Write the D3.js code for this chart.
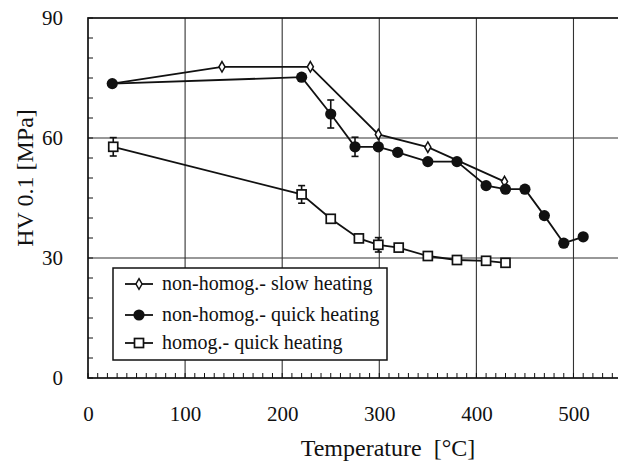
<!DOCTYPE html>
<html><head><meta charset="utf-8">
<script src="https://cdn.jsdelivr.net/npm/d3@7"></script>
<style>body{margin:0;background:#fff}svg{display:block}</style>
</head><body><svg id="c" width="618" height="464"></svg>
<script>
const xTicks=[0,100,200,300,400,500];
const yTicks=[0,30,60,90];
const seriesNames=["non-homog.- slow heating","non-homog.- quick heating","homog.- quick heating"];
const slowT=[25,138,229,299,350,429];
const slowHV=[73.6,77.8,77.8,60.9,57.7,49.1];
const quickT=[25,220,250,275,299,319,350,380,410,430,450,470,490,510];
const quickHV=[73.6,75.2,66,57.8,57.8,56.4,54.1,54.1,48.1,47.2,47.2,40.6,33.7,35.3];
const quickErr=[0,0.8,3.5,2.4,0,0,0,0,0,0,0,0,0,0];
const homT=[26,220,250,279,299,320,350,380,410,430];
const homHV=[57.8,45.9,39.8,34.9,33.3,32.6,30.5,29.5,29.3,28.8];
const homErr=[2.3,2.2,0,0,1.8,0,0,0,0,0];

const FONT="'Liberation Serif'";
const svg=d3.select("#c");
const L=88,T=18,R=623,B=378;
const x=d3.scaleLinear().domain([0,551]).range([L,R]);
const y=d3.scaleLinear().domain([0,90]).range([B,T]);
const ink="#111";
svg.append("g").selectAll("line").data([100,200,300,400,500]).join("line")
 .attr("x1",d=>x(d)).attr("x2",d=>x(d)).attr("y1",T).attr("y2",B).attr("stroke","#333").attr("stroke-width",1.1);
svg.append("g").selectAll("line").data([30,60]).join("line")
 .attr("x1",L).attr("x2",R).attr("y1",d=>y(d)).attr("y2",d=>y(d)).attr("stroke","#333").attr("stroke-width",1.1);
svg.append("g").selectAll("line").data(d3.range(0,91,5)).join("line")
 .attr("x1",L).attr("x2",L+5).attr("y1",d=>y(d)).attr("y2",d=>y(d)).attr("stroke",ink).attr("stroke-width",1);
svg.append("g").selectAll("line").data(d3.range(0,551,10)).join("line")
 .attr("x1",d=>x(d)).attr("x2",d=>x(d)).attr("y1",B).attr("y2",B-5).attr("stroke",ink).attr("stroke-width",1);
svg.append("rect").attr("x",L).attr("y",T).attr("width",R-L).attr("height",B-T).attr("fill","none").attr("stroke",ink).attr("stroke-width",1.7);
const xa=svg.append("g").attr("transform",`translate(0,${B})`).call(d3.axisBottom(x).tickValues(xTicks).tickSize(0).tickPadding(28));
xa.attr("font-family",null).attr("font-size",null);
xa.select(".domain").remove();
xa.selectAll("text").style("font-family",FONT).style("font-size","21px").attr("fill",ink);
const ya=svg.append("g").attr("transform",`translate(${L},0)`).call(d3.axisLeft(y).tickValues(yTicks).tickSize(0).tickPadding(25));
ya.attr("font-family",null).attr("font-size",null);
ya.select(".domain").remove();
ya.selectAll("text").style("font-family",FONT).style("font-size","21px").attr("fill",ink);
svg.append("text").attr("x",388).attr("y",456).attr("text-anchor","middle").style("font-family",FONT).style("font-size","24px").style("white-space","pre").attr("fill",ink).text("Temperature  [°C]");
svg.append("text").attr("transform","translate(33,178) rotate(-90)").attr("text-anchor","middle").style("font-family",FONT).style("font-size","24px").attr("fill",ink).text("HV 0.1 [MPa]");

const line=d3.line().x(d=>x(d[0])).y(d=>y(d[1]));
const slow=slowT.map((t,i)=>[t,slowHV[i],0]);
const quick=quickT.map((t,i)=>[t,quickHV[i],quickErr[i]]);
const hom=homT.map((t,i)=>[t,homHV[i],homErr[i]]);
function errBars(data){
  const g=svg.append("g").attr("stroke",ink).attr("stroke-width",1.6);
  data.filter(d=>d[2]>0).forEach(d=>{
    g.append("line").attr("x1",x(d[0])).attr("x2",x(d[0])).attr("y1",y(d[1]+d[2])).attr("y2",y(d[1]-d[2]));
    [d[1]+d[2],d[1]-d[2]].forEach(v=>g.append("line").attr("x1",x(d[0])-3.5).attr("x2",x(d[0])+3.5).attr("y1",y(v)).attr("y2",y(v)));
  });
}
[slow,quick,hom].forEach(s=>svg.append("path").datum(s).attr("d",line).attr("fill","none").attr("stroke",ink).attr("stroke-width",1.8));
errBars(quick);errBars(hom);
const diamond=d3.symbol().type(d3.symbolDiamond).size(32);
function drawDiamonds(g,data){g.selectAll("path").data(data).join("path").attr("d",diamond).attr("transform",d=>`translate(${x(d[0])},${y(d[1])})`).attr("fill","#fff").attr("stroke",ink).attr("stroke-width",1.5);}
function drawCircles(g,data){g.selectAll("circle").data(data).join("circle").attr("cx",d=>x(d[0])).attr("cy",d=>y(d[1])).attr("r",5.6).attr("fill",ink);}
function drawSquares(g,data){g.selectAll("rect").data(data).join("rect").attr("x",d=>x(d[0])-4.5).attr("y",d=>y(d[1])-4.5).attr("width",9).attr("height",9).attr("fill","#fff").attr("stroke",ink).attr("stroke-width",1.7);}
drawSquares(svg.append("g"),hom);
drawDiamonds(svg.append("g"),slow.slice(1));
drawCircles(svg.append("g"),quick);

const lg=svg.append("g");
lg.append("rect").attr("x",113).attr("y",268).attr("width",274).attr("height",92).attr("fill","#fff").attr("stroke",ink).attr("stroke-width",1.5);
const rows=[284,315,343];
rows.forEach((ry,i)=>{
  lg.append("line").attr("x1",125).attr("x2",153).attr("y1",ry).attr("y2",ry).attr("stroke",ink).attr("stroke-width",1.8);
  lg.append("text").attr("x",162).attr("y",ry+6).style("font-family",FONT).style("font-size","20px").attr("fill",ink).text(seriesNames[i]);
});
const lx=x.invert(139), ly=rows.map(r=>y.invert(r));
drawDiamonds(lg.append("g"),[[lx,ly[0]]]);
drawCircles(lg.append("g"),[[lx,ly[1]]]);
drawSquares(lg.append("g"),[[lx,ly[2]]]);
</script></body></html>
